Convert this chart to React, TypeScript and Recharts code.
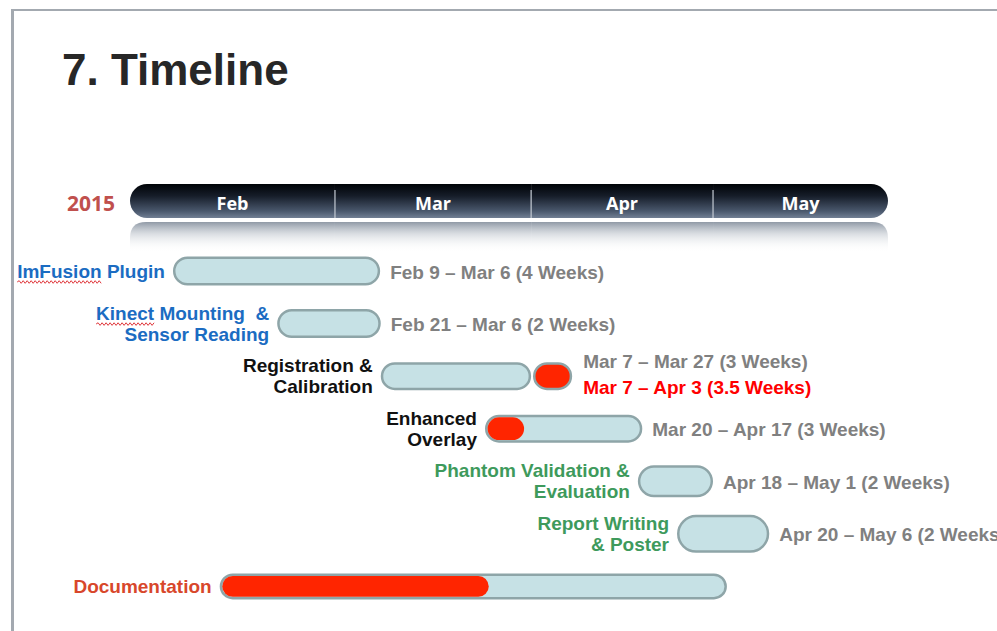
import React from 'react';
import { BarChart, Bar, XAxis, YAxis } from 'recharts';

// ---------- data (timeline units: 0 = start of Feb, 120 = end of May, as drawn on the slide) ----------
const yearLabel = '2015';
const months = ['Feb', 'Mar', 'Apr', 'May'];
const monthSpan = [32.45, 31.05, 28.8, 27.7];

const tasks = [
  'ImFusion Plugin',
  'Kinect Mounting & Sensor Reading',
  'Registration & Calibration',
  'Enhanced Overlay',
  'Phantom Validation & Evaluation',
  'Report Writing & Poster',
  'Documentation',
];
const taskLabelLines = [
  ['ImFusion Plugin'],
  ['Kinect Mounting  &', 'Sensor Reading'],
  ['Registration &', 'Calibration'],
  ['Enhanced', 'Overlay'],
  ['Phantom Validation &', 'Evaluation'],
  ['Report Writing', '& Poster'],
  ['Documentation'],
];
// words flagged by the spell checker in the slide (first word of the first label line)
const spellFlagged = ['ImFusion', 'Kinect', '', '', '', '', ''];
const planStart = [6.8, 23.3, 39.7, 56.2, 80.4, 86.6, 14.2];
const planEnd = [39.6, 39.7, 63.5, 81.1, 92.3, 101.2, 94.5];
const delayStart: (number | null)[] = [null, null, 63.8, 56.2, null, null, 14.2];
const delayEnd: (number | null)[] = [null, null, 70.0, 62.8, null, null, 57.2];
const planNotes = [
  'Feb 9 – Mar 6 (4 Weeks)',
  'Feb 21 – Mar 6 (2 Weeks)',
  'Mar 7 – Mar 27 (3 Weeks)',
  'Mar 20 – Apr 17 (3 Weeks)',
  'Apr 18 – May 1 (2 Weeks)',
  'Apr 20 – May 6 (2 Weeks)',
  '',
];
const revisedNotes = ['', '', 'Mar 7 – Apr 3 (3.5 Weeks)', '', '', '', ''];

// ---------- styles ----------
const labelColors = ['#1b6cc2', '#1b6cc2', '#111111', '#111111', '#3e9a5c', '#3e9a5c', '#d8472b'];
const rowThickness = [29, 29, 28, 28, 32, 38, 26];
const SANS = "'Liberation Sans', Arial, Helvetica, sans-serif";
const HEAD_FONT = "'Open Sans', 'Noto Sans', sans-serif";
const LABEL_SIZE = 19;

const headerData = [
  Object.assign({ year: yearLabel }, ...months.map((m, i) => ({ [m]: monthSpan[i] }))),
];
const taskData = tasks.map((task, i) => ({
  task,
  i,
  plan: [planStart[i], planEnd[i]],
  delay: delayStart[i] == null ? null : [delayStart[i], delayEnd[i]],
}));

let measureCtx: CanvasRenderingContext2D | null = null;
function measure(text: string, size: number) {
  if (typeof document === 'undefined') return text.length * size * 0.55;
  if (!measureCtx) measureCtx = document.createElement('canvas').getContext('2d');
  if (!measureCtx) return text.length * size * 0.55;
  measureCtx.font = `bold ${size}px ${SANS}`;
  return measureCtx.measureText(text).width;
}

function wavyPath(x0: number, x1: number, y: number) {
  const step = 2;
  let d = `M${x0},${y}`;
  let up = true;
  for (let x = x0 + step; x <= x1; x += step) {
    d += ` L${x},${y + (up ? -1.3 : 1.3)}`;
    up = !up;
  }
  return d;
}

function roundedPath(x: number, y: number, w: number, h: number, rl: number, rr: number) {
  return [
    `M${x + rl},${y}`,
    `L${x + w - rr},${y}`,
    rr ? `A${rr},${rr} 0 0 1 ${x + w - rr},${y + h}` : `L${x + w},${y} L${x + w},${y + h}`,
    `L${x + rl},${y + h}`,
    rl ? `A${rl},${rl} 0 0 1 ${x + rl},${y}` : `L${x},${y + h} L${x},${y}`,
    'Z',
  ].join(' ');
}
function topRoundedPath(x: number, y: number, w: number, h: number, rl: number, rr: number) {
  return [
    `M${x},${y + h}`,
    rl ? `L${x},${y + rl} Q${x},${y} ${x + rl},${y}` : `L${x},${y}`,
    rr ? `L${x + w - rr},${y} Q${x + w},${y} ${x + w},${y + rr}` : `L${x + w},${y}`,
    `L${x + w},${y + h}`,
    'Z',
  ].join(' ');
}

const MonthSegment = (props: any) => {
  const { x, y, width, height, mi } = props;
  const last = months.length - 1;
  const r = height / 2;
  const rl = mi === 0 ? r : 0;
  const rr = mi === last ? r : 0;
  return (
    <g>
      {mi === 0 && (
        <defs>
          <linearGradient id="hdrGrad" x1="0" y1="0" x2="0" y2="1">
            <stop offset="0%" stopColor="#000307" />
            <stop offset="35%" stopColor="#161d29" />
            <stop offset="80%" stopColor="#4a586d" />
            <stop offset="100%" stopColor="#717f94" />
          </linearGradient>
          <linearGradient id="reflGrad" x1="0" y1="0" x2="0" y2="1">
            <stop offset="0%" stopColor="#838e9c" stopOpacity={0.9} />
            <stop offset="40%" stopColor="#bcc3cb" stopOpacity={0.55} />
            <stop offset="100%" stopColor="#ffffff" stopOpacity={0} />
          </linearGradient>
        </defs>
      )}
      <path d={topRoundedPath(x, y + height + 4, width, 30, rl ? 16 : 0, rr ? 16 : 0)} fill="url(#reflGrad)" />
      <path d={roundedPath(x, y, width, height, rl, rr)} fill="url(#hdrGrad)" />
      {mi > 0 && <line x1={x} x2={x} y1={y + 6} y2={y + height} stroke="#c3c9d2" strokeWidth={1.2} />}
      <text
        x={x + width / 2}
        y={y + height / 2 + 2}
        textAnchor="middle"
        dominantBaseline="central"
        fill="#ffffff"
        fontFamily={HEAD_FONT}
        fontWeight={700}
        fontSize={18}
      >
        {months[mi]}
      </text>
    </g>
  );
};

const YearTick = (props: any) => {
  const { x, y, payload } = props;
  return (
    <text
      x={x}
      y={y + 2}
      textAnchor="end"
      dominantBaseline="central"
      fill="#c0504d"
      fontFamily={HEAD_FONT}
      fontWeight={700}
      fontSize={21}
    >
      {payload.value}
    </text>
  );
};

const PlanShape = (props: any) => {
  const { x, y, width, height, payload } = props;
  const i = payload.i;
  const t = rowThickness[i];
  const cy = y + height / 2;
  const top = cy - t / 2;
  const sw = 2.5;
  const k = width / (planEnd[i] - planStart[i]);
  const de = delayEnd[i];
  const rightEdge = de != null && de > planEnd[i] ? x + (de - planStart[i]) * k : x + width;
  const lines = taskLabelLines[i];
  const lh = 21;
  const labelRight = x - 8;
  const textProps = {
    fontFamily: SANS,
    fontWeight: 700,
    fontSize: LABEL_SIZE,
    dominantBaseline: 'central' as const,
    style: { whiteSpace: 'pre' as const },
  };
  const lineY = (j: number) => cy + (j - (lines.length - 1) / 2) * lh;
  let squiggle: React.ReactNode = null;
  if (spellFlagged[i]) {
    const lw = measure(lines[0], LABEL_SIZE);
    const ww = measure(spellFlagged[i], LABEL_SIZE);
    const sx = labelRight - lw;
    squiggle = <path d={wavyPath(sx, sx + ww, lineY(0) + 11)} fill="none" stroke="#e0393e" strokeWidth={1} />;
  }
  return (
    <g>
      <rect
        x={x + sw / 2}
        y={top + sw / 2}
        width={Math.max(0, width - sw)}
        height={t - sw}
        rx={(t - sw) / 2}
        ry={(t - sw) / 2}
        fill="#c6e1e5"
        stroke="#8ea5a8"
        strokeWidth={sw}
      />
      {lines.map((ln, j) => (
        <text key={j} x={labelRight} y={lineY(j)} textAnchor="end" fill={labelColors[i]} {...textProps}>
          {ln}
        </text>
      ))}
      {squiggle}
      {revisedNotes[i] ? (
        <>
          <text x={rightEdge + 11} y={cy - 15} fill="#808080" {...textProps}>
            {planNotes[i]}
          </text>
          <text x={rightEdge + 11} y={cy + 11} fill="#ff0000" {...textProps}>
            {revisedNotes[i]}
          </text>
        </>
      ) : planNotes[i] ? (
        <text x={rightEdge + 10} y={cy + 1} fill="#808080" {...textProps}>
          {planNotes[i]}
        </text>
      ) : null}
    </g>
  );
};

const DelayShape = (props: any) => {
  const { x, y, width, height, payload } = props;
  const i = payload.i;
  if (delayStart[i] == null || !isFinite(width)) return null;
  const t = rowThickness[i];
  const cy = y + height / 2;
  const outside = (delayStart[i] as number) >= planEnd[i];
  if (outside) {
    const sw = 2.5;
    return (
      <rect
        x={x + sw / 2}
        y={cy - t / 2 + sw / 2}
        width={width - sw}
        height={t - sw}
        rx={(t - sw) / 2}
        fill="#ff2500"
        stroke="#8ea5a8"
        strokeWidth={sw}
      />
    );
  }
  const inset = 2.6;
  const h = t - 2 * inset;
  return (
    <rect x={x + inset} y={cy - h / 2} width={width - 2 * inset} height={h} rx={h / 2} fill="#ff2500" />
  );
};

export default function App() {
  return (
    <div style={{ position: 'absolute', left: 0, top: 0, width: 997, height: 631, background: '#fff', overflow: 'hidden' }}>
      <div
        style={{
          position: 'absolute',
          left: 11,
          top: 9,
          width: 1000,
          height: 640,
          borderTop: '2px solid #a3a9b0',
          borderLeft: '3px solid #a3a9b0',
        }}
      />
      <div
        style={{
          position: 'absolute',
          left: 62,
          top: 48,
          fontFamily: SANS,
          fontWeight: 700,
          fontSize: 44,
          lineHeight: '44px',
          color: '#272727',
          whiteSpace: 'nowrap',
        }}
      >
        7. Timeline
      </div>
      <div style={{ position: 'absolute', left: 0, top: 0 }}>
        <BarChart
          width={997}
          height={260}
          layout="vertical"
          data={headerData}
          margin={{ top: 184, right: 109, bottom: 42, left: 70 }}
          barCategoryGap={0}
        >
          <XAxis type="number" domain={[0, 120]} hide />
          <YAxis
            type="category"
            dataKey="year"
            width={60}
            axisLine={false}
            tickLine={false}
            tickSize={0}
            tickMargin={15}
            tick={<YearTick />}
          />
          {months.map((m, mi) => (
            <Bar
              key={m}
              dataKey={m}
              stackId="months"
              isAnimationActive={false}
              shape={(p: any) => <MonthSegment {...p} mi={mi} />}
            />
          ))}
        </BarChart>
      </div>
      <div style={{ position: 'absolute', left: 0, top: 0 }}>
        <BarChart
          width={997}
          height={631}
          layout="vertical"
          data={taskData}
          margin={{ top: 245, right: 109, bottom: 18, left: 130 }}
          barSize={28}
          barGap={-28}
        >
          <XAxis type="number" domain={[0, 120]} hide />
          <YAxis type="category" dataKey="task" hide />
          <Bar dataKey="plan" isAnimationActive={false} shape={PlanShape} />
          <Bar dataKey="delay" isAnimationActive={false} shape={DelayShape} />
        </BarChart>
      </div>
    </div>
  );
}
